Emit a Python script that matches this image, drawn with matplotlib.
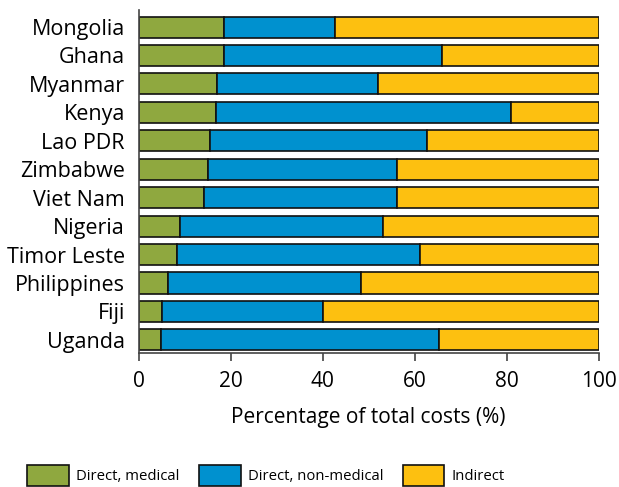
import matplotlib
matplotlib.use("Agg")
import matplotlib.pyplot as plt
import numpy as np

plt.rcParams['font.family'] = ['Open Sans', 'DejaVu Sans']

countries = ["Mongolia", "Ghana", "Myanmar", "Kenya", "Lao PDR", "Zimbabwe",
             "Viet Nam", "Nigeria", "Timor Leste", "Philippines", "Fiji", "Uganda"]
direct_medical = [18.5, 18.5, 17.0, 16.9, 15.5, 15.0, 14.2, 9.0, 8.3, 6.3, 5.0, 4.8]
direct_cumulative = [42.6, 65.9, 52.0, 81.0, 62.7, 56.2, 56.2, 53.2, 61.2, 48.4, 40.0, 65.2]
direct_nonmedical = [c - m for c, m in zip(direct_cumulative, direct_medical)]
indirect = [100 - c for c in direct_cumulative]

series_names = ["Direct, medical", "Direct, non-medical", "Indirect"]
colors = ["#8fa83f", "#0091cf", "#fdc010"]
xticks = [0, 20, 40, 60, 80, 100]

fig = plt.figure(figsize=(6.19, 4.87), dpi=100)
ax = fig.add_axes([0.224, 0.2758, 0.743, 0.7037])

y = np.arange(len(countries))
left = np.zeros(len(countries))
for vals, col, name in zip([direct_medical, direct_nonmedical, indirect], colors, series_names):
    ax.barh(y, vals, left=left, height=0.74, color=col, edgecolor="#111111",
            linewidth=1.2, label=name)
    left = left + np.array(vals)

ax.set_xlim(0, 100)
ax.set_ylim(11.45, -0.6)
ax.set_yticks(y)
ax.set_yticklabels(countries, fontsize=15.5)
ax.set_xticks(xticks)
ax.set_xticklabels([str(t) for t in xticks], fontsize=15)
ax.tick_params(axis='y', length=0, pad=10)
ax.tick_params(axis='x', length=6, width=1.2, color="#444444", direction='out', pad=7)
ax.set_xlabel("Percentage of total costs (%)", fontsize=15, labelpad=11)
for s in ["top", "right"]:
    ax.spines[s].set_visible(False)
for s in ["left", "bottom"]:
    ax.spines[s].set_color("#444444")
    ax.spines[s].set_linewidth(1.2)

handles, labels = ax.get_legend_handles_labels()
fig.legend(handles, labels, loc="lower center", bbox_to_anchor=(0.43, -0.025), ncol=3,
           frameon=False, fontsize=10.7, handlelength=2.8, handleheight=1.8,
           columnspacing=1.3, handletextpad=0.5)

fig.savefig("out.png", dpi=100)
